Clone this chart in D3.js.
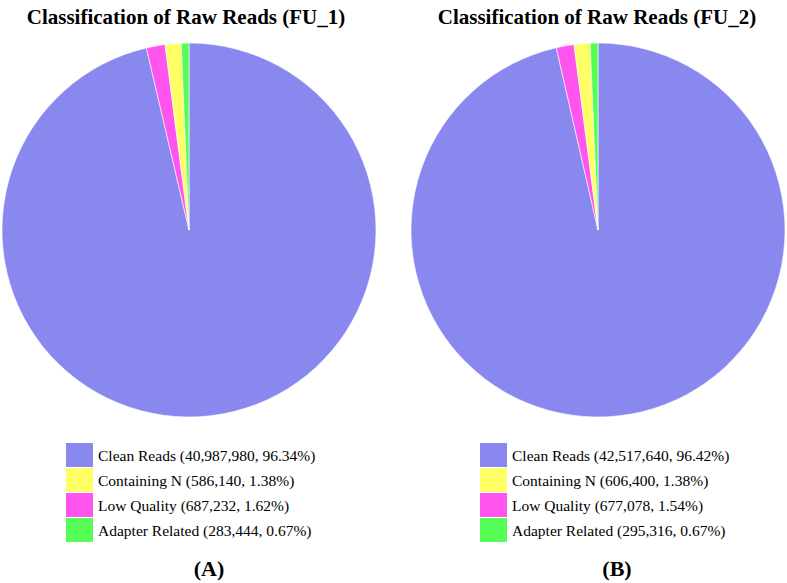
<!DOCTYPE html>
<html>
<head>
<meta charset="utf-8">
<script src="https://cdn.jsdelivr.net/npm/d3@7"></script>
<style>
  body { margin: 0; background: #fff; }
  svg { display: block; }
</style>
</head>
<body>
<div id="chart"></div>
<script>
// data
var categories = ["Clean Reads", "Low Quality", "Containing N", "Adapter Related"];
var fu1Counts = [40987980, 687232, 586140, 283444];
var fu1Pct = ["96.34%", "1.62%", "1.38%", "0.67%"];
var fu2Counts = [42517640, 677078, 606400, 295316];
var fu2Pct = ["96.42%", "1.54%", "1.38%", "0.67%"];
var titles = ["Classification of Raw Reads (FU_1)", "Classification of Raw Reads (FU_2)"];
var panelLabels = ["(A)", "(B)"];
var legendOrder = ["Clean Reads", "Containing N", "Low Quality", "Adapter Related"];

var color = d3.scaleOrdinal()
    .domain(categories)
    .range(["#8888ee", "#ff55ee", "#ffff66", "#55ff55"]);

var width = 787, height = 583;
var serif = '"Liberation Serif", "Times New Roman", serif';
var svg = d3.select('#chart').append('svg')
    .attr('width', width)
    .attr('height', height);

var fmt = d3.format(',');

var panels = [
    { cx: 189, cy: 230, counts: fu1Counts, pct: fu1Pct, titleX: 186, legX: 66, labX: 209 },
    { cx: 598, cy: 230, counts: fu2Counts, pct: fu2Pct, titleX: 597, legX: 480, labX: 617 }
];

var pie = d3.pie().sort(null).value(function (d) { return d.value; });
var arc = d3.arc().innerRadius(0).outerRadius(187);

panels.forEach(function (p, k) {
    var rows = categories.map(function (c, i) {
        return { name: c, value: p.counts[i], pct: p.pct[i] };
    });

    svg.append('text')
        .attr('x', p.titleX)
        .attr('y', 24)
        .attr('text-anchor', 'middle')
        .style('font-family', serif)
        .style('font-weight', 'bold')
        .style('font-size', '21px')
        .text(titles[k]);

    var g = svg.append('g')
        .attr('transform', 'translate(' + p.cx + ',' + p.cy + ')');
    g.selectAll('path')
        .data(pie(rows))
        .enter().append('path')
        .attr('d', arc)
        .attr('fill', function (d) { return color(d.data.name); })
        .attr('stroke', '#fff')
        .attr('stroke-width', 0.6);

    // legend
    var rowY = d3.scaleBand().domain(legendOrder).range([443, 543]);
    var leg = svg.append('g');
    legendOrder.forEach(function (name) {
        var r = rows.find(function (d) { return d.name === name; });
        leg.append('rect')
            .attr('x', p.legX)
            .attr('y', rowY(name))
            .attr('width', 27)
            .attr('height', rowY.bandwidth() - 1)
            .attr('fill', color(name));
        leg.append('text')
            .attr('x', p.legX + 32)
            .attr('y', rowY(name) + rowY.bandwidth() / 2 + 5)
            .style('font-family', serif)
            .style('font-size', '15.5px')
            .text(name + ' (' + fmt(r.value) + ', ' + r.pct + ')');
    });

    svg.append('text')
        .attr('x', p.labX)
        .attr('y', 576)
        .attr('text-anchor', 'middle')
        .style('font-family', serif)
        .style('font-weight', 'bold')
        .style('font-size', '22px')
        .text(panelLabels[k]);
});
</script>
</body>
</html>
